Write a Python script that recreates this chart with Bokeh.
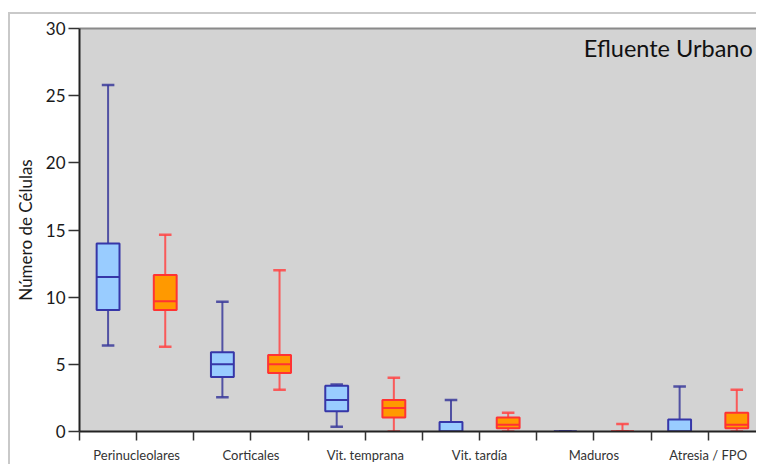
from bokeh.plotting import figure
from bokeh.models import Range1d, FixedTicker, LinearAxis, Label
from bokeh.embed import file_html
from bokeh.resources import INLINE

categories = ["Perinucleolares", "Corticales", "Vit. temprana", "Vit. tardía", "Maduros", "Atresia / FPO"]

# blue series
a_low = [6.4, 2.55, 0.35, 0.0, 0.0, 0.0]
a_q1 = [9.05, 4.05, 1.5, 0.0, 0.0, 0.0]
a_med = [11.5, 5.0, 2.35, 0.0, 0.0, 0.0]
a_q3 = [14.0, 5.9, 3.4, 0.7, 0.0, 0.9]
a_high = [25.8, 9.65, 3.5, 2.35, 0.0, 3.35]

# orange series
b_low = [6.3, 3.1, 0.0, 0.0, 0.0, 0.0]
b_q1 = [9.05, 4.35, 1.05, 0.25, 0.0, 0.25]
b_med = [9.7, 5.0, 1.75, 0.5, 0.0, 0.5]
b_q3 = [11.65, 5.7, 2.35, 1.05, 0.0, 1.4]
b_high = [14.65, 12.0, 4.0, 1.4, 0.55, 3.1]

y_ticks = [0, 5, 10, 15, 20, 25, 30]
title_text = "Efluente Urbano"
y_title = "Número de Células"

FONT = "Lato"

p = figure(width=748, height=452, output_backend="svg", toolbar_location=None,
           x_range=Range1d(0, 5.94), y_range=Range1d(0, 30),
           min_border_left=69, min_border_top=14, min_border_bottom=35, min_border_right=0,
           x_axis_type=None, y_axis_type=None)
p.background_fill_color = "#d3d3d3"
p.border_fill_color = "white"
p.outline_line_color = None
p.grid.visible = False
p.styles = {
    "border-left": "2px solid #c9c9c9",
    "border-top": "2px solid #c9c9c9",
    "margin-left": "8px",
    "margin-top": "12px",
}

# x axis
n = len(categories)
xticks = [i * 0.5 for i in range(2 * n + 1)]
overrides = {}
for t in xticks:
    overrides[t] = ""
for i, c in enumerate(categories):
    overrides[i + 0.5] = c
xaxis = LinearAxis(ticker=FixedTicker(ticks=xticks), major_label_overrides=overrides)
xaxis.axis_line_color = "#222222"
xaxis.axis_line_width = 2
xaxis.major_tick_line_color = "#333333"
xaxis.major_tick_line_width = 1.5
xaxis.major_tick_out = 9
xaxis.major_tick_in = 0
xaxis.minor_tick_line_color = None
xaxis.major_label_standoff = 6
xaxis.major_label_text_font = FONT
xaxis.major_label_text_font_size = "13px"
xaxis.major_label_text_color = "#333333"
p.add_layout(xaxis, "below")

# y axis
yaxis = LinearAxis(ticker=FixedTicker(ticks=y_ticks), axis_label=y_title)
yaxis.axis_line_color = "#222222"
yaxis.axis_line_width = 2
yaxis.major_tick_line_color = "#333333"
yaxis.major_tick_line_width = 1.5
yaxis.major_tick_out = 11
yaxis.major_tick_in = 0
yaxis.minor_tick_line_color = None
yaxis.major_label_standoff = 3
yaxis.major_label_text_font = FONT
yaxis.major_label_text_font_size = "17px"
yaxis.major_label_text_color = "#1a1a1a"
yaxis.axis_label_text_font = FONT
yaxis.axis_label_text_font_style = "normal"
yaxis.axis_label_text_font_size = "17px"
yaxis.axis_label_text_color = "#1a1a1a"
yaxis.axis_label_standoff = 7
p.add_layout(yaxis, "left")

# top frame line
top = LinearAxis(ticker=FixedTicker(ticks=[]))
top.axis_line_color = "#8a8a8a"
top.axis_line_width = 2
top.major_tick_line_color = None
top.minor_tick_line_color = None
top.major_label_text_font_size = "0px"
p.add_layout(top, "above")

box_w = 0.2
cap_w = 0.11

def draw(series_offset, low, q1, med, q3, high, fill, edge, whisk):
    xs = [i + series_offset for i in range(n)]
    p.segment(x0=xs, y0=q3, x1=xs, y1=high, line_color=whisk, line_width=2, line_alpha=0.85)
    p.segment(x0=xs, y0=q1, x1=xs, y1=low, line_color=whisk, line_width=2, line_alpha=0.85)
    p.segment(x0=[x - cap_w / 2 for x in xs], y0=high, x1=[x + cap_w / 2 for x in xs], y1=high,
              line_color=whisk, line_width=2.5, line_alpha=0.85)
    p.segment(x0=[x - cap_w / 2 for x in xs], y0=low, x1=[x + cap_w / 2 for x in xs], y1=low,
              line_color=whisk, line_width=2.5, line_alpha=0.85)
    p.vbar(x=xs, width=box_w, top=q3, bottom=q1, fill_color=fill, line_color=edge, line_width=2)
    p.segment(x0=[x - box_w / 2 for x in xs], y0=med, x1=[x + box_w / 2 for x in xs], y1=med,
              line_color=edge, line_width=2)

draw(0.25, a_low, a_q1, a_med, a_q3, a_high, "#99ccff", "#3636a8", "#3a3a9a")
draw(0.75, b_low, b_q1, b_med, b_q3, b_high, "#ff9900", "#ff3333", "#ff4444")

p.add_layout(Label(x=5.89, y=28.55, text=title_text, text_align="right", text_baseline="middle",
                   text_font=FONT, text_font_size="23.5px", text_color="#111111"))

open("out.html", "w").write(file_html(p, INLINE))
